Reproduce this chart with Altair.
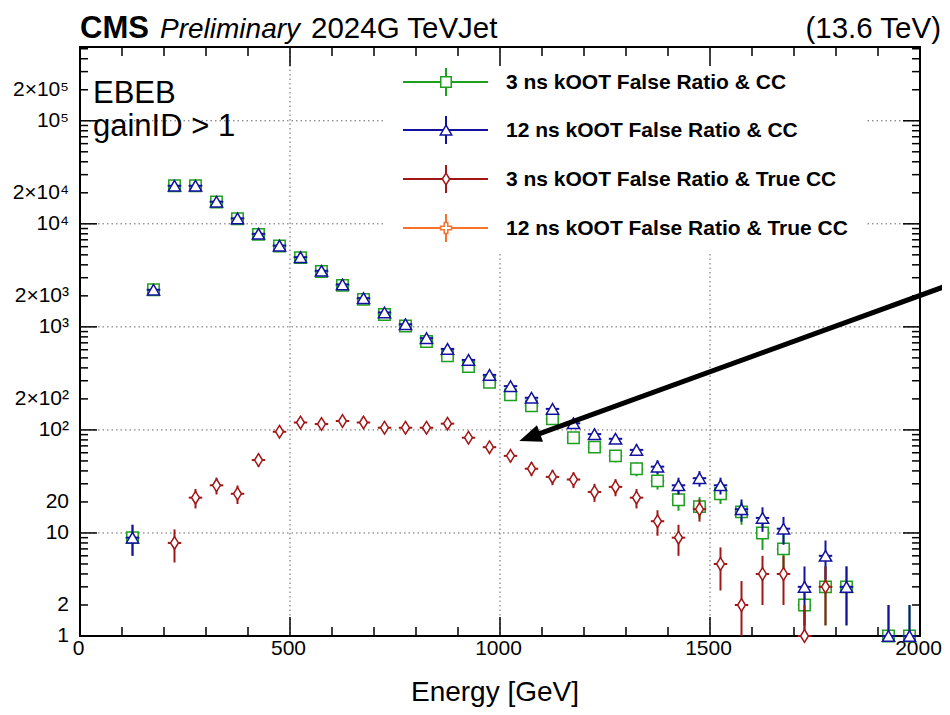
import altair as alt
import pandas as pd

# ---------------- data ----------------
energy = [125, 175, 225, 275, 325, 375, 425, 475, 525, 575, 625, 675, 725, 775,
          825, 875, 925, 975, 1025, 1075, 1125, 1175, 1225, 1275, 1325, 1375,
          1425, 1475, 1525, 1575, 1625, 1675, 1725, 1775, 1825, 1875, 1925, 1975]

green_3ns_cc = [9, 2290, 23400, 23400, 16300, 11200, 7900, 6100, 4700, 3450, 2530,
                1850, 1320, 1020, 720, 525, 412, 290, 219, 171, 128, 84, 68, 56,
                42, 32, 21, 18, 24, 16, 10, 7, 2, 3, 3, None, 1, 1]

blue_12ns_cc = [9, 2290, 23400, 23400, 16400, 11300, 8000, 6150, 4750, 3500, 2580,
                1900, 1380, 1060, 777, 611, 478, 342, 266, 205, 160, 116, 91, 82,
                64, 44, 29, 34, 29, 17, 14, 11, 3, 6, 3, None, 1, 1]

red_3ns_truecc = [None, None, 8, 22, 29, 24, 51, 96, 118, 114, 122, 118, 105, 105,
                  105, 115, 84, 68, 56, 42, 35, 33, 25, 28, 22, 13, 9, 17, 5, 2,
                  4, 4, 1, 3, None, None, None, None]

series_names = ["3 ns kOOT False Ratio & CC",
                "12 ns kOOT False Ratio & CC",
                "3 ns kOOT False Ratio & True CC",
                "12 ns kOOT False Ratio & True CC"]
series_colors = ["#1f9f1f", "#12129e", "#a11616", "#f7722a"]

x_major_ticks = [0, 500, 1000, 1500, 2000]
x_minor_ticks = [100, 200, 300, 400, 600, 700, 800, 900, 1100, 1200, 1300, 1400,
                 1600, 1700, 1800, 1900]
x_tick_labels = ["0", "500", "1000", "1500", "2000"]
x_grid = [500, 1000, 1500]

y_major_ticks = [1, 10, 100, 1000, 10000, 100000]
y_minor_ticks = [m * 10 ** k for k in range(6) for m in range(2, 10) if m * 10 ** k <= 520000]
y_grid = [10, 100, 1000, 10000, 100000]
y_label_values = [1, 2, 10, 20, 100, 200, 1000, 2000, 10000, 20000, 100000, 200000]
y_label_texts = ["1", "2", "10", "20", "10²", "2×10²", "10³", "2×10³", "10⁴",
                 "2×10⁴", "10⁵", "2×10⁵"]

# annotation arrow (energy, count): start, end of shaft, tip
arrow_E = [2070, 1078]
arrow_v = [2560, 87]
arrow_tip_E = [1046]
arrow_tip_v = [78]

# ---------------- layout ----------------
W, H = 840, 589
FONT = "Liberation Sans"
xs = alt.Scale(domain=[0, 2000], nice=False, zero=False)
ys = alt.Scale(type="log", domain=[1, 520000], nice=False, clamp=True)

rows = []
for key, vals in (("g", green_3ns_cc), ("b", blue_12ns_cc), ("r", red_3ns_truecc)):
    for e, v in zip(energy, vals):
        if v is not None:
            rows.append({"E": e, "v": v, "s": key})
df = pd.DataFrame(rows)
one = pd.DataFrame({"a": [0]})

layers = []

# grid lines
layers.append(alt.Chart(pd.DataFrame({"g": x_grid})).mark_rule(
    color="#666666", strokeWidth=1, strokeDash=[1.5, 3]).encode(
    x=alt.X("g:Q", scale=xs, axis=None), y=alt.value(0), y2=alt.value(H)))
layers.append(alt.Chart(pd.DataFrame({"g": y_grid})).mark_rule(
    color="#666666", strokeWidth=1, strokeDash=[1.5, 3]).encode(
    y=alt.Y("g:Q", scale=ys, axis=None), x=alt.value(0), x2=alt.value(W)))

# legend box (hides grid)
layers.append(alt.Chart(one).mark_rect(fill="white").encode(
    x=alt.value(305), x2=alt.value(787), y=alt.value(5), y2=alt.value(207)))

# inward ticks
def xticks(vals, ln):
    d = pd.DataFrame({"t": vals})
    bot = alt.Chart(d).mark_rule(color="black", strokeWidth=1.5).encode(
        x=alt.X("t:Q", scale=xs, axis=None), y=alt.value(H), y2=alt.value(H - ln))
    top = alt.Chart(d).mark_rule(color="black", strokeWidth=1.5).encode(
        x=alt.X("t:Q", scale=xs, axis=None), y=alt.value(0), y2=alt.value(ln))
    return [bot, top]

def yticks(vals, ln):
    d = pd.DataFrame({"t": vals})
    lft = alt.Chart(d).mark_rule(color="black", strokeWidth=1.5).encode(
        y=alt.Y("t:Q", scale=ys, axis=None), x=alt.value(0), x2=alt.value(ln))
    rgt = alt.Chart(d).mark_rule(color="black", strokeWidth=1.5).encode(
        y=alt.Y("t:Q", scale=ys, axis=None), x=alt.value(W), x2=alt.value(W - ln))
    return [lft, rgt]

layers += xticks(x_major_ticks, 19) + xticks(x_minor_ticks, 9)
layers += yticks(y_major_ticks, 17) + yticks(y_minor_ticks, 8)

# tick labels
layers.append(alt.Chart(pd.DataFrame({"t": x_major_ticks, "l": x_tick_labels})).mark_text(
    font=FONT, fontSize=21, baseline="middle", align="center", color="black", dx=-1.5).encode(
    x=alt.X("t:Q", scale=xs, axis=None), y=alt.value(H + 13), text="l:N"))
layers.append(alt.Chart(pd.DataFrame({"t": y_label_values, "l": y_label_texts})).mark_text(
    font=FONT, fontSize=21, baseline="middle", align="right", color="black").encode(
    y=alt.Y("t:Q", scale=ys, axis=None), x=alt.value(-11), text="l:N"))

# data series
diamond = "M0,-1L0.62,0L0,1L-0.62,0Z"
cross = ("M-0.33,-1L0.33,-1L0.33,-0.33L1,-0.33L1,0.33L0.33,0.33L0.33,1L-0.33,1"
         "L-0.33,0.33L-1,0.33L-1,-0.33L-0.33,-0.33Z")
shapes = ["square", "triangle-up", diamond, cross]
sizes = [130, 150, 160, 140]

for key, i in (("g", 0), ("b", 1), ("r", 2)):
    c = series_colors[i]
    base = alt.Chart(df).transform_filter(alt.datum.s == key).transform_calculate(
        lo="max(datum.v - sqrt(datum.v), 0.01)",
        hi="datum.v + sqrt(datum.v)",
        xl="datum.E - 16",
        xr="datum.E + 16")
    layers.append(base.mark_rule(color=c, strokeWidth=2).encode(
        x=alt.X("E:Q", scale=xs, axis=None),
        y=alt.Y("lo:Q", scale=ys, axis=None), y2="hi:Q"))
    layers.append(base.mark_rule(color=c, strokeWidth=2).encode(
        x=alt.X("xl:Q", scale=xs, axis=None), x2="xr:Q",
        y=alt.Y("v:Q", scale=ys, axis=None)))
    layers.append(base.mark_point(shape=shapes[i], size=sizes[i], filled=True,
                                  fill="white", stroke=c, strokeWidth=1.5,
                                  opacity=1).encode(
        x=alt.X("E:Q", scale=xs, axis=None),
        y=alt.Y("v:Q", scale=ys, axis=None)))

# legend entries
legend_y = [35, 83, 132, 181]
for i, name in enumerate(series_names):
    c = series_colors[i]
    ry = legend_y[i]
    layers.append(alt.Chart(one).mark_rule(color=c, strokeWidth=2).encode(
        x=alt.value(323), x2=alt.value(408), y=alt.value(ry)))
    layers.append(alt.Chart(one).mark_rule(color=c, strokeWidth=2).encode(
        x=alt.value(366), y=alt.value(ry - 14), y2=alt.value(ry + 14)))
    layers.append(alt.Chart(one).mark_point(shape=shapes[i], size=sizes[i] - 20,
                                            filled=True, fill="white", stroke=c,
                                            strokeWidth=1.5, opacity=1).encode(
        x=alt.value(366), y=alt.value(ry)))
    layers.append(alt.Chart(one).mark_text(text=name, font=FONT, fontSize=21,
                                           fontWeight="bold", align="left",
                                           baseline="middle", color="black").encode(
        x=alt.value(426), y=alt.value(ry + 1)))

# texts
def txt(t, x, y, size, **kw):
    return alt.Chart(one).mark_text(text=t, font=FONT, fontSize=size,
                                    baseline="alphabetic", color="black", **kw).encode(
        x=alt.value(x), y=alt.value(y))

layers.append(txt("CMS", 0, -9, 31, fontWeight="bold", align="left"))
layers.append(txt("Preliminary", 80, -9, 28, fontStyle="italic", align="left"))
layers.append(txt("2024G TeVJet", 231, -9, 29.5, align="left"))
layers.append(txt("(13.6 TeV)", 861, -9, 29.5, align="right"))
layers.append(txt("EBEB", 13, 56, 31, align="left"))
layers.append(txt("gainID > 1", 13, 89, 31, align="left"))
layers.append(txt("Energy [GeV]", 415, 654, 28, align="center"))

# arrow
layers.append(alt.Chart(pd.DataFrame({"E": arrow_E, "v": arrow_v})).mark_line(
    color="black", strokeWidth=5).encode(
    x=alt.X("E:Q", scale=xs, axis=None), y=alt.Y("v:Q", scale=ys, axis=None)))
layers.append(alt.Chart(pd.DataFrame({"E": arrow_tip_E, "v": arrow_tip_v})).mark_point(
    shape="M0,0L2,-0.8L2,0.8Z", size=484, filled=True, color="black", opacity=1,
    angle=340).encode(
    x=alt.X("E:Q", scale=xs, axis=None), y=alt.Y("v:Q", scale=ys, axis=None)))

chart = alt.layer(*layers).properties(
    width=W, height=H,
    padding={"left": 72, "top": 39, "right": 22, "bottom": 71},
    autosize=alt.AutoSizeParams(type="none"),
    background="white",
).configure_view(stroke="black", strokeWidth=2)

chart.save("out.html", embed_options={"renderer": "svg", "actions": False})
